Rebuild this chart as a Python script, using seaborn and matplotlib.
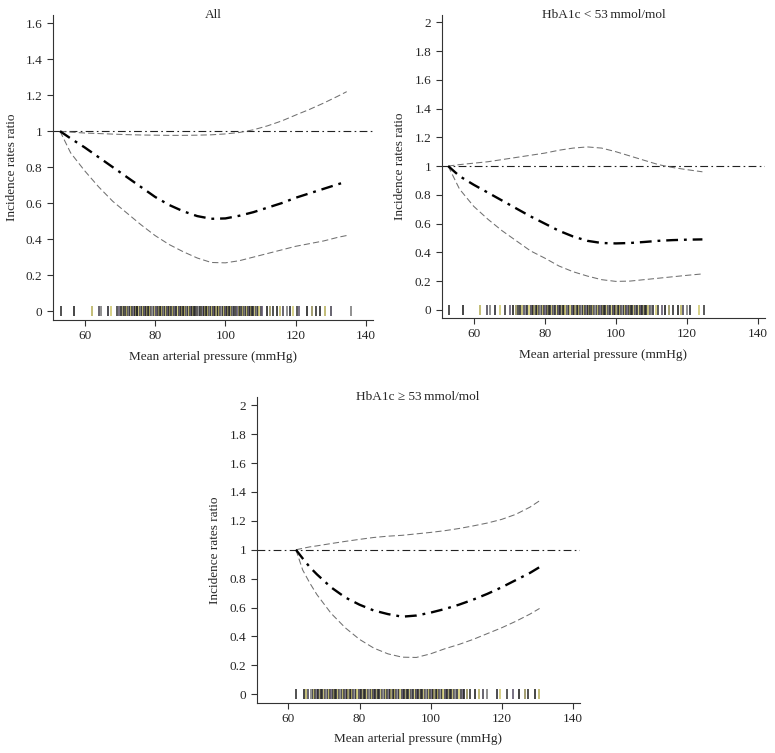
import numpy as np
import pandas as pd
import matplotlib
matplotlib.use("Agg")
import matplotlib.pyplot as plt
import seaborn as sns

# ---- spline estimates (IRR vs mean arterial pressure) ----
all_x = [53, 56, 60, 64, 68, 72, 76, 80, 84, 88, 92, 96, 100, 104, 108, 112, 116, 120, 124, 128, 132, 134.5]
all_irr = [1.0, 0.96, 0.91, 0.855, 0.80, 0.745, 0.69, 0.635, 0.59, 0.555, 0.528, 0.513, 0.515, 0.53,
           0.55, 0.575, 0.60, 0.63, 0.655, 0.68, 0.705, 0.72]
all_low = [1.0, 0.88, 0.78, 0.69, 0.61, 0.545, 0.48, 0.42, 0.37, 0.33, 0.295, 0.27, 0.268, 0.28,
           0.30, 0.32, 0.34, 0.36, 0.375, 0.39, 0.41, 0.42]
all_up = [1.0, 0.995, 0.99, 0.987, 0.984, 0.981, 0.979, 0.978, 0.977, 0.977, 0.978, 0.98, 0.985,
          0.993, 1.008, 1.03, 1.057, 1.09, 1.122, 1.157, 1.195, 1.22]

low_x = [52.8, 56, 60, 64, 68, 72, 76, 80, 84, 88, 92, 96, 100, 104, 108, 112, 116, 120, 124.4]
low_irr = [1.0, 0.93, 0.87, 0.815, 0.76, 0.705, 0.65, 0.60, 0.55, 0.51, 0.48, 0.465, 0.462, 0.465,
           0.472, 0.48, 0.485, 0.488, 0.49]
low_low = [1.0, 0.84, 0.72, 0.63, 0.55, 0.48, 0.41, 0.36, 0.305, 0.265, 0.235, 0.21, 0.198, 0.20,
           0.21, 0.22, 0.23, 0.24, 0.25]
low_up = [1.0, 1.01, 1.02, 1.03, 1.045, 1.06, 1.075, 1.09, 1.11, 1.125, 1.133, 1.125, 1.10, 1.07,
          1.04, 1.01, 0.99, 0.975, 0.96]

high_x = [62.1, 64, 66, 68, 72, 76, 80, 84, 88, 92, 96, 100, 104, 108, 112, 116, 120, 124, 128, 130.7]
high_irr = [1.0, 0.94, 0.88, 0.83, 0.74, 0.67, 0.62, 0.58, 0.555, 0.537, 0.545, 0.565, 0.59, 0.62,
            0.655, 0.695, 0.74, 0.79, 0.84, 0.88]
high_low = [1.0, 0.86, 0.77, 0.69, 0.56, 0.46, 0.38, 0.32, 0.28, 0.257, 0.255, 0.28, 0.315, 0.345,
            0.38, 0.42, 0.46, 0.505, 0.555, 0.594]
high_up = [1.0, 1.01, 1.02, 1.027, 1.043, 1.058, 1.072, 1.085, 1.094, 1.10, 1.11, 1.12, 1.132, 1.147,
           1.165, 1.185, 1.21, 1.245, 1.295, 1.339]

# ---- observed MAP values (rug) ----
all_obs = [53.2, 57.0, 62.2, 64.2, 64.7, 66.6, 67.5, 69.1, 69.7, 70.4,
           71.0, 71.3, 71.7, 72.0, 72.4, 72.6, 73.0, 73.3, 73.5, 73.9, 74.2, 74.5, 74.8, 75.0,
           75.4, 75.7, 76.0, 76.3, 76.5, 76.9, 77.2, 77.4, 77.8, 78.0, 78.3, 78.7, 79.0, 79.2,
           79.6, 79.9, 80.2, 80.4, 80.8, 81.0, 81.3, 81.7, 82.0, 82.2, 82.5, 82.9, 83.1, 83.5,
           83.8, 84.0, 84.3, 84.6, 85.0, 85.2, 85.5, 85.9, 86.1, 86.4, 86.8, 87.0, 87.3, 87.6,
           88.0, 88.2, 88.5, 88.9, 89.1, 89.4, 89.7, 90.0, 90.3, 90.6, 90.9, 91.1, 91.5, 91.8,
           92.0, 92.4, 92.7, 93.0, 93.2, 93.6, 93.9, 94.1, 94.4, 94.8, 95.0, 95.3, 95.7, 96.0,
           96.2, 96.5, 96.9, 97.1, 97.4, 97.8, 98.0, 98.3, 98.6, 99.0, 99.2, 99.5, 99.9, 100.1,
           100.4, 100.8, 101.0, 101.3, 101.6, 102.0, 102.2, 102.5, 102.9, 103.1, 103.4, 103.8,
           104.0, 104.3, 104.7, 105.0, 105.2, 105.6, 105.9, 106.1, 106.5, 106.8, 107.0, 107.4,
           107.7, 108.0, 108.3, 108.6, 109.0, 109.3, 109.6, 110.0, 110.4,
           111.8, 112.7, 113.6, 114.6, 115.5, 116.5, 117.4, 118.4, 119.3, 120.5, 121.0,
           123.1, 124.5, 125.9, 126.8, 128.2, 130.1, 135.8]
low_obs = [53.1, 56.9, 61.8, 63.8, 64.7, 66.1, 67.3, 68.7, 70.1, 71.2, 72.0, 72.6, 73.1, 73.6,
           74.2, 74.6, 75.1, 75.5, 76.0, 76.3, 76.7, 77.0, 77.4, 77.8, 78.1, 78.5, 78.8, 79.2,
           79.5, 79.9, 80.2, 80.6, 80.9, 81.3, 81.6, 82.0, 82.3, 82.7, 83.0, 83.4, 83.7, 84.1,
           84.4, 84.8, 85.1, 85.5, 85.8, 86.2, 86.5, 86.9, 87.2, 87.6, 87.9, 88.3, 88.6, 89.0,
           89.3, 89.7, 90.0, 90.4, 90.7, 91.1, 91.4, 91.8, 92.1, 92.5, 92.8, 93.2, 93.5, 93.9,
           94.2, 94.6, 94.9, 95.3, 95.6, 96.0, 96.3, 96.7, 97.0, 97.4, 97.7, 98.1, 98.4, 98.8,
           99.1, 99.5, 99.8, 100.2, 100.5, 100.9, 101.2, 101.6, 101.9, 102.3, 102.6, 103.0,
           103.3, 103.7, 104.0, 104.4, 104.7, 105.1, 105.4, 105.8, 106.1, 106.5, 106.8, 107.2,
           107.5, 107.9, 108.2, 108.6, 109.0, 109.5, 110.0, 110.6, 111.2, 112.0, 113.0, 114.0,
           115.0, 116.0, 117.5, 118.3, 119.0, 120.0, 120.8, 123.5, 124.9]
high_obs = [62.1, 64.5, 64.9, 65.4, 66.2, 66.8, 67.2, 67.6, 68.0, 68.4, 68.8, 69.1, 69.5, 69.9,
            70.2, 70.6, 71.0, 71.3, 71.7, 72.1, 72.4, 72.8, 73.2, 73.5, 73.9, 74.3, 74.6, 75.0,
            75.4, 75.7, 76.1, 76.5, 76.8, 77.2, 77.6, 77.9, 78.3, 78.7, 79.0, 79.4, 79.8, 80.1,
            80.5, 80.9, 81.2, 81.6, 82.0, 82.3, 82.7, 83.1, 83.4, 83.8, 84.2, 84.5, 84.9, 85.3,
            85.6, 86.0, 86.4, 86.7, 87.1, 87.5, 87.8, 88.2, 88.6, 88.9, 89.3, 89.7, 90.0, 90.4,
            90.8, 91.1, 91.5, 91.9, 92.2, 92.6, 93.0, 93.3, 93.7, 94.1, 94.4, 94.8, 95.2, 95.5,
            95.9, 96.3, 96.6, 97.0, 97.4, 97.7, 98.1, 98.5, 98.8, 99.2, 99.6, 99.9, 100.3, 100.7,
            101.0, 101.4, 101.8, 102.1, 102.5, 102.9, 103.2, 103.6, 104.0, 104.3, 104.7, 105.1,
            105.4, 105.8, 106.2, 106.6, 107.0, 107.5, 108.0, 108.6, 109.0, 109.5, 110.2,
            111.1, 112.5, 113.7, 114.8, 115.9, 118.8, 119.5, 121.4, 123.2, 124.9, 126.5, 127.4,
            129.3, 130.5]

x_ticks = [60, 80, 100, 120, 140]
y_ticks_all = [0, 0.2, 0.4, 0.6, 0.8, 1, 1.2, 1.4, 1.6]
y_ticks_sub = [0, 0.2, 0.4, 0.6, 0.8, 1, 1.2, 1.4, 1.6, 1.8, 2]

rug_colors = ['#333333', '#262626', '#b9b260', '#4e4a58', '#7e7e7e',
              '#2c2c33', '#cfc872', '#3d3d3d', '#625a70', '#222222', '#938e58']

sns.set_style("ticks")
plt.rcParams['font.family'] = ['Liberation Serif', 'DejaVu Serif']

fig = plt.figure(figsize=(7.75, 7.53), dpi=100)
ax1 = fig.add_axes([0.0684, 0.575, 0.413, 0.405])
ax2 = fig.add_axes([0.570, 0.578, 0.417, 0.402])
ax3 = fig.add_axes([0.331, 0.0668, 0.417, 0.406])

panels = [
    (ax1, "All", all_x, all_irr, all_low, all_up, all_obs, y_ticks_all, (-0.05, 1.646), 0.028),
    (ax2, "HbA1c < 53\u2009mmol/mol", low_x, low_irr, low_low, low_up, low_obs, y_ticks_sub, (-0.055, 2.05), 0.035),
    (ax3, "HbA1c \u2265 53\u2009mmol/mol", high_x, high_irr, high_low, high_up, high_obs, y_ticks_sub, (-0.058, 2.057), 0.035),
]

for ax, title, xs, irr, lo, up, obs, yt, ylim, rh in panels:
    df = pd.DataFrame({"map": xs, "irr": irr, "lo": lo, "up": up})
    # reference line at IRR = 1
    ax.axhline(1, color='#222222', lw=0.8, linestyle=(0, (7, 3, 1.5, 3)))
    sns.lineplot(data=df, x="map", y="lo", ax=ax, color='#707070', lw=0.75,
                 linestyle=(0, (6, 3)), sort=False, estimator=None)
    sns.lineplot(data=df, x="map", y="up", ax=ax, color='#707070', lw=0.75,
                 linestyle=(0, (6, 3)), sort=False, estimator=None)
    sns.lineplot(data=df, x="map", y="irr", ax=ax, color='black', lw=1.7,
                 linestyle=(0, (5, 2.5, 1.2, 2.5)), sort=False, estimator=None)
    cols = [rug_colors[i % len(rug_colors)] for i in range(len(obs))]
    ax.vlines(obs, -rh, rh, colors=cols, lw=1.2)

    ax.set_xlim(51, 142)
    ax.set_ylim(*ylim)
    ax.set_xticks(x_ticks)
    ax.set_yticks(yt)
    ax.set_yticklabels([f"{v:g}" for v in yt])
    ax.tick_params(labelsize=9.5, length=4, width=0.8, color='#333333')
    ax.set_xlabel("Mean arterial pressure (mmHg)", fontsize=9.5, labelpad=6)
    ax.set_ylabel("Incidence rates ratio", fontsize=9.5, labelpad=6)
    ax.text(0.5, 1.0, title, transform=ax.transAxes, ha='center', va='center', fontsize=9.5)
    for s in ['top', 'right']:
        ax.spines[s].set_visible(False)
    for s in ['left', 'bottom']:
        ax.spines[s].set_linewidth(0.8)
        ax.spines[s].set_color('#333333')

fig.savefig("out.png", dpi=100)
